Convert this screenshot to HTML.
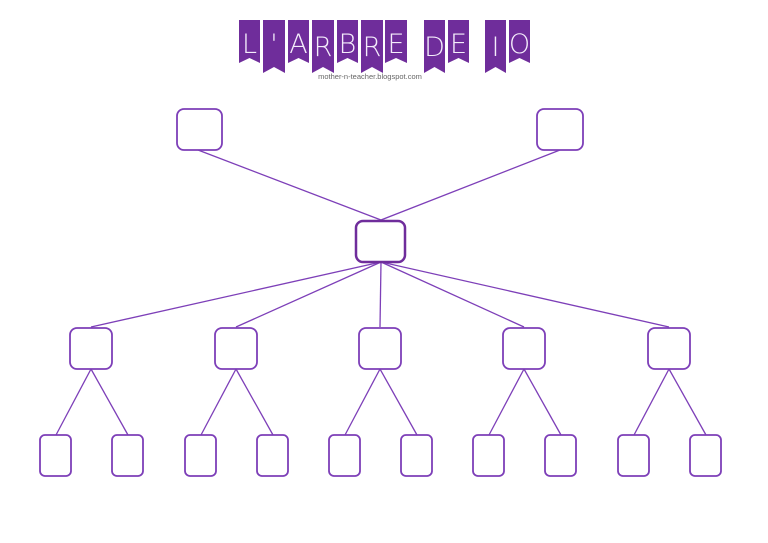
<!DOCTYPE html>
<html><head><style>body{margin:0;background:#fff}svg{display:block}</style></head><body>
<svg width="768" height="543" viewBox="0 0 768 543" xmlns="http://www.w3.org/2000/svg">
<g fill="#6f2d9b">
<polygon points="239,20 260,20 260,63 249.5,58 239,63"/>
<polygon points="263,20 285,20 285,73 274,67 263,73"/>
<polygon points="288,20 309,20 309,63 298.5,58 288,63"/>
<polygon points="312,20 334,20 334,73 323,67 312,73"/>
<polygon points="337,20 358,20 358,63 347.5,58 337,63"/>
<polygon points="361,20 383,20 383,73 372,67 361,73"/>
<polygon points="385,20 407,20 407,63 396,58 385,63"/>
<polygon points="424,20 445,20 445,73 434.5,67 424,73"/>
<polygon points="448,20 469,20 469,63 458.5,58 448,63"/>
<polygon points="485,20 506,20 506,73 495.5,67 485,73"/>
<polygon points="509,20 530,20 530,63 519.5,58 509,63"/>
</g>
<g fill="#f4ecfb" font-family="DejaVu Sans, sans-serif" font-weight="200" font-size="27" text-anchor="middle">
<text x="249.5" y="53" transform="scale(1,1)">L</text><text x="274" y="53">'</text><text x="298.5" y="53">A</text>
<text x="323" y="56">R</text><text x="347.5" y="53">B</text><text x="372" y="56">R</text>
<text x="396" y="53">E</text><text x="434.5" y="56">D</text><text x="458.5" y="53">E</text>
<text x="495.5" y="56">I</text><text x="519.5" y="53">O</text>
</g>
<text x="370" y="79" font-family="Liberation Sans, sans-serif" font-size="7.5" fill="#666" text-anchor="middle">mother-n-teacher.blogspot.com</text>
<g stroke="#7d3fb8" stroke-width="1.3" fill="none">
<line x1="198" y1="150" x2="381" y2="220"/><line x1="560" y1="150" x2="381" y2="220"/>
<line x1="381" y1="262" x2="91" y2="327"/><line x1="381" y1="262" x2="236" y2="327"/>
<line x1="381" y1="262" x2="380" y2="327"/><line x1="381" y1="262" x2="524" y2="327"/>
<line x1="381" y1="262" x2="669" y2="327"/>
<line x1="91" y1="369" x2="56" y2="435"/><line x1="91" y1="369" x2="128" y2="435"/>
<line x1="236" y1="369" x2="201" y2="435"/><line x1="236" y1="369" x2="273" y2="435"/>
<line x1="380" y1="369" x2="345" y2="435"/><line x1="380" y1="369" x2="417" y2="435"/>
<line x1="524" y1="369" x2="489" y2="435"/><line x1="524" y1="369" x2="561" y2="435"/>
<line x1="669" y1="369" x2="634" y2="435"/><line x1="669" y1="369" x2="706" y2="435"/>
</g>
<g stroke="#7d3fb8" stroke-width="1.8" fill="#fff">
<rect x="177" y="109" width="45" height="41" rx="7"/>
<rect x="537" y="109" width="46" height="41" rx="7"/>
<rect x="356" y="221" width="49" height="41" rx="7" stroke-width="2.5" stroke="#6f2d9b"/>
<rect x="70" y="328" width="42" height="41" rx="7"/>
<rect x="215" y="328" width="42" height="41" rx="7"/>
<rect x="359" y="328" width="42" height="41" rx="7"/>
<rect x="503" y="328" width="42" height="41" rx="7"/>
<rect x="648" y="328" width="42" height="41" rx="7"/>
<rect x="40" y="435" width="31" height="41" rx="5"/><rect x="112" y="435" width="31" height="41" rx="5"/>
<rect x="185" y="435" width="31" height="41" rx="5"/><rect x="257" y="435" width="31" height="41" rx="5"/>
<rect x="329" y="435" width="31" height="41" rx="5"/><rect x="401" y="435" width="31" height="41" rx="5"/>
<rect x="473" y="435" width="31" height="41" rx="5"/><rect x="545" y="435" width="31" height="41" rx="5"/>
<rect x="618" y="435" width="31" height="41" rx="5"/><rect x="690" y="435" width="31" height="41" rx="5"/>
</g>
</svg>
</body></html>
